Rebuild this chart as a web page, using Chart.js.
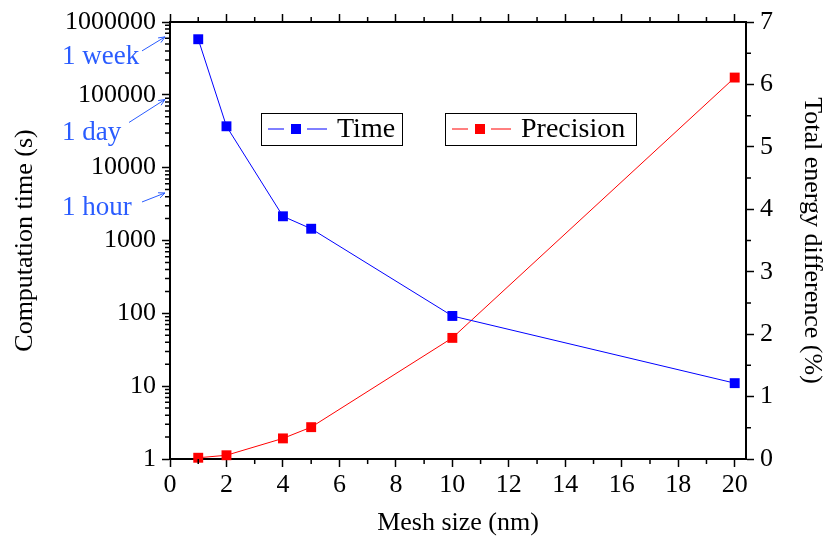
<!DOCTYPE html>
<html>
<head>
<meta charset="utf-8">
<script src="https://cdn.jsdelivr.net/npm/chart.js@4.4.1/dist/chart.umd.min.js"></script>
<style>
  html, body { margin: 0; padding: 0; background: #fff; }
  #wrap { width: 827px; height: 539px; }
</style>
</head>
<body>
<div id="wrap"><canvas id="grafica" width="827" height="539"></canvas></div>
<script>
// datos
const meshSize = [1, 2, 4, 5, 10, 20];
const timeSeconds = [580000, 37000, 2150, 1450, 92, 11];
const precision = [0.02, 0.06, 0.33, 0.51, 1.94, 6.11];

const xTicks = [0, 2, 4, 6, 8, 10, 12, 14, 16, 18, 20];
const xMinorTicks = [1, 3, 5, 7, 9, 11, 13, 15, 17, 19];
const timeTicks = [1, 10, 100, 1000, 10000, 100000, 1000000];
const precisionTicks = [0, 1, 2, 3, 4, 5, 6, 7];
const precisionMinor = [0.5, 1.5, 2.5, 3.5, 4.5, 5.5, 6.5];

const timeMarkLabels = ["1 week", "1 day", "1 hour"];
const timeMarkValues = [604800, 86400, 3600];

const FUENTE = "'Liberation Serif', serif";
const AZUL = "#0000ff";
const ROJO = "#ff0000";
const AZUL_TEXTO = "#2a5cff";

// ticks menores (la libreria no los dibuja)
const ticksMenores = {
  id: "ticksMenores",
  afterDraw(chart) {
    const ctx = chart.ctx;
    const a = chart.chartArea;
    const x = chart.scales.x, y = chart.scales.y, y2 = chart.scales.y2;
    ctx.save();
    ctx.strokeStyle = "#000";
    ctx.lineWidth = 1.5;
    ctx.beginPath();
    xMinorTicks.forEach(v => {
      const px = x.getPixelForValue(v);
      ctx.moveTo(px, a.bottom); ctx.lineTo(px, a.bottom + 5);
      ctx.moveTo(px, a.top); ctx.lineTo(px, a.top - 5);
    });
    for (let d = 1; d < 1000000; d *= 10) {
      for (let m = 2; m <= 9; m++) {
        const py = y.getPixelForValue(d * m);
        ctx.moveTo(a.left, py); ctx.lineTo(a.left - 5, py);
      }
    }
    precisionMinor.forEach(v => {
      const py = y2.getPixelForValue(v);
      ctx.moveTo(a.right, py); ctx.lineTo(a.right + 5, py);
    });
    ctx.stroke();
    ctx.restore();
  }
};

// etiquetas 1 week / 1 day / 1 hour con flechas
const marcasTiempo = {
  id: "marcasTiempo",
  afterDraw(chart) {
    const ctx = chart.ctx;
    const a = chart.chartArea;
    const y = chart.scales.y;
    const desde = [[-23, 14], [-36, 23], [-23, 9]];
    const ajuste = [-1, 0, -7];
    const textoY = [57, 133, 208];
    ctx.save();
    ctx.font = "27px " + FUENTE;
    ctx.fillStyle = AZUL_TEXTO;
    ctx.strokeStyle = AZUL_TEXTO;
    ctx.lineWidth = 1;
    ctx.textBaseline = "middle";
    timeMarkLabels.forEach((t, i) => {
      ctx.fillText(t, 62, textoY[i]);
      const tx = a.left - 5;
      const ty = y.getPixelForValue(timeMarkValues[i]) + ajuste[i];
      const sx = tx + desde[i][0], sy = ty + desde[i][1];
      ctx.beginPath();
      ctx.moveTo(sx, sy); ctx.lineTo(tx, ty);
      const ang = Math.atan2(ty - sy, tx - sx);
      ctx.moveTo(tx - 7 * Math.cos(ang - 0.4), ty - 7 * Math.sin(ang - 0.4));
      ctx.lineTo(tx, ty);
      ctx.lineTo(tx - 7 * Math.cos(ang + 0.4), ty - 7 * Math.sin(ang + 0.4));
      ctx.stroke();
    });
    ctx.restore();
  }
};

// leyenda en dos cajas
const leyenda = {
  id: "leyenda",
  afterDraw(chart) {
    const ctx = chart.ctx;
    const cajas = [[261, 113, 141], [445, 113, 191]];
    ctx.save();
    chart.data.datasets.forEach((ds, i) => {
      const [bx, by, bw] = cajas[i];
      const bh = 32, cy = by + bh / 2;
      ctx.strokeStyle = "#000";
      ctx.lineWidth = 1;
      ctx.strokeRect(bx + 0.5, by + 0.5, bw, bh);
      ctx.strokeStyle = ds.borderColor;
      ctx.beginPath();
      ctx.moveTo(bx + 7, cy); ctx.lineTo(bx + 23, cy);
      ctx.moveTo(bx + 46, cy); ctx.lineTo(bx + 66, cy);
      ctx.stroke();
      ctx.fillStyle = ds.borderColor;
      ctx.fillRect(bx + 30, cy - 5, 10, 10);
      ctx.fillStyle = "#000";
      ctx.font = "28px " + FUENTE;
      ctx.textBaseline = "middle";
      ctx.fillText(ds.label, bx + 76, cy + 1);
    });
    ctx.restore();
  }
};

const $grafica = document.querySelector("#grafica");

const fuenteTicks = { family: FUENTE, size: 26 };
const fuenteTitulo = { family: FUENTE, size: 26 };

new Chart($grafica, {
  type: "line",
  data: {
    datasets: [
      {
        label: "Time",
        data: meshSize.map((m, i) => ({ x: m, y: timeSeconds[i] })),
        yAxisID: "y",
        borderColor: AZUL,
        backgroundColor: AZUL,
        borderWidth: 1,
        pointStyle: "rect",
        pointRadius: 7,
        pointBorderWidth: 0,
        clip: false
      },
      {
        label: "Precision",
        data: meshSize.map((m, i) => ({ x: m, y: precision[i] })),
        yAxisID: "y2",
        borderColor: ROJO,
        backgroundColor: ROJO,
        borderWidth: 1,
        pointStyle: "rect",
        pointRadius: 7,
        pointBorderWidth: 0,
        clip: false
      }
    ]
  },
  options: {
    responsive: false,
    animation: false,
    layout: { padding: 0 },
    plugins: {
      legend: { display: false },
      tooltip: { enabled: false }
    },
    scales: {
      x: {
        type: "linear",
        position: "bottom",
        min: 0,
        max: 20.4,
        afterBuildTicks: s => { s.ticks = xTicks.map(v => ({ value: v })); },
        afterFit: s => { s.height = 80; },
        grid: { drawOnChartArea: false, tickLength: 8, tickWidth: 1.5, color: "#000" },
        border: { color: "#000", width: 2 },
        ticks: { color: "#000", font: fuenteTicks, padding: 3, maxRotation: 0 },
        title: { display: true, text: "Mesh size (nm)", color: "#000", font: fuenteTitulo, padding: { top: 0, bottom: 0 } }
      },
      xTop: {
        type: "linear",
        position: "top",
        min: 0,
        max: 20.4,
        afterBuildTicks: s => { s.ticks = xTicks.map(v => ({ value: v })); },
        afterFit: s => { s.height = 22; },
        grid: { drawOnChartArea: false, tickLength: 8, tickWidth: 1.5, color: "#000" },
        border: { color: "#000", width: 2 },
        ticks: { display: false }
      },
      y: {
        type: "logarithmic",
        position: "left",
        min: 1,
        max: 1000000,
        afterBuildTicks: s => { s.ticks = timeTicks.map(v => ({ value: v, major: true })); },
        afterFit: s => { s.width = 170; },
        grid: { drawOnChartArea: false, tickLength: 8, tickWidth: 1.5, color: "#000" },
        border: { color: "#000", width: 2 },
        ticks: { color: "#000", font: fuenteTicks, padding: 6, callback: v => String(v) },
        title: { display: true, text: "Computation time (s)", color: "#000", font: fuenteTitulo, padding: { top: 10, bottom: 0 } }
      },
      y2: {
        type: "linear",
        position: "right",
        min: 0,
        max: 7,
        afterBuildTicks: s => { s.ticks = precisionTicks.map(v => ({ value: v })); },
        afterFit: s => { s.width = 81; },
        grid: { drawOnChartArea: false, tickLength: 8, tickWidth: 1.5, color: "#000" },
        border: { color: "#000", width: 2 },
        ticks: { color: "#000", font: fuenteTicks, padding: 6 },
        title: { display: true, text: "Total energy difference (%)", color: "#000", font: fuenteTitulo, padding: { top: 0, bottom: 0 } }
      }
    }
  },
  plugins: [ticksMenores, marcasTiempo, leyenda]
});
</script>
</body>
</html>
